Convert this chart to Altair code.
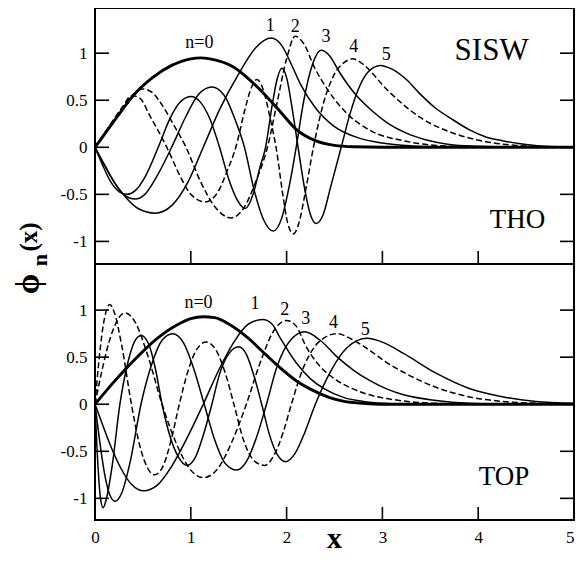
import altair as alt
import pandas as pd

# ---------------- data ----------------
# Top panel (THO)
THO_X0 = [0, 0.1, 0.2, 0.3, 0.4, 0.6, 0.8, 1.0, 1.1, 1.2, 1.45, 1.6, 1.8, 1.95, 2.1, 2.3, 2.5, 2.7, 3.0, 5.0]
THO_Y0 = [0, 0.14, 0.28, 0.42, 0.55, 0.74, 0.87, 0.94, 0.95, 0.94, 0.85, 0.73, 0.53, 0.36, 0.19, 0.07, 0.02, 0.005, 0, 0]

THO_X1 = [0, 0.1, 0.2, 0.32, 0.45, 0.63, 0.8, 0.97, 1.13, 1.3, 1.5, 1.68, 1.84, 1.95, 2.05, 2.15, 2.3, 2.5, 2.75, 3.0, 3.3, 3.6, 4.0, 5.0]
THO_Y1 = [0, -0.19, -0.37, -0.53, -0.65, -0.70, -0.62, -0.37, 0, 0.4, 0.78, 1.06, 1.16, 1.08, 0.88, 0.66, 0.42, 0.22, 0.1, 0.045, 0.015, 0.004, 0, 0]

THO_X2 = [0, 0.1, 0.2, 0.3, 0.4, 0.5, 0.6, 0.7, 0.82, 0.95, 1.1, 1.25, 1.42, 1.55, 1.68, 1.8, 1.9, 2.0, 2.09, 2.18, 2.29, 2.43, 2.6, 2.87, 3.22, 3.56, 4.0, 5.0]
THO_Y2 = [0, 0.15, 0.3, 0.44, 0.56, 0.62, 0.58, 0.45, 0.24, 0, -0.36, -0.63, -0.75, -0.65, -0.36, 0, 0.47, 0.94, 1.18, 1.1, 0.85, 0.61, 0.39, 0.18, 0.07, 0.02, 0.003, 0]

THO_X3 = [0, 0.1, 0.2, 0.3, 0.42, 0.52, 0.65, 0.8, 0.95, 1.08, 1.22, 1.35, 1.46, 1.56, 1.66, 1.76, 1.86, 1.95, 2.03, 2.1, 2.18, 2.27, 2.36, 2.45, 2.55, 2.72, 2.9, 3.05, 3.25, 3.45, 3.7, 4.0, 4.4, 5.0]
THO_Y3 = [0, -0.19, -0.37, -0.5, -0.55, -0.5, -0.3, 0, 0.33, 0.56, 0.64, 0.55, 0.3, 0, -0.45, -0.77, -0.89, -0.75, -0.4, 0, 0.5, 0.88, 1.03, 0.97, 0.8, 0.56, 0.38, 0.26, 0.15, 0.08, 0.03, 0.01, 0, 0]

THO_X4 = [0, 0.1, 0.2, 0.3, 0.38, 0.47, 0.57, 0.75, 0.9, 1.0, 1.15, 1.28, 1.38, 1.47, 1.56, 1.62, 1.69, 1.76, 1.83, 1.89, 1.96, 2.01, 2.07, 2.13, 2.2, 2.28, 2.38, 2.5, 2.6, 2.69, 2.8, 3.05, 3.39, 3.74, 4.08, 4.4, 4.8, 5.0]
THO_Y4 = [0, 0.15, 0.3, 0.45, 0.55, 0.52, 0.34, 0, -0.33, -0.5, -0.58, -0.48, -0.25, 0, 0.38, 0.6, 0.72, 0.6, 0.3, 0, -0.5, -0.8, -0.92, -0.8, -0.45, 0, 0.45, 0.78, 0.9, 0.94, 0.88, 0.61, 0.32, 0.15, 0.06, 0.02, 0.004, 0]

THO_X5 = [0, 0.08, 0.16, 0.25, 0.33, 0.42, 0.53, 0.66, 0.78, 0.88, 1.0, 1.1, 1.2, 1.3, 1.4, 1.48, 1.57, 1.65, 1.72, 1.78, 1.85, 1.9, 1.95, 2.0, 2.06, 2.12, 2.19, 2.25, 2.31, 2.38, 2.46, 2.57, 2.66, 2.75, 2.85, 2.98, 3.1, 3.25, 3.39, 3.55, 3.74, 3.9, 4.08, 4.25, 4.42, 4.7, 5.0]
THO_Y5 = [0, -0.19, -0.36, -0.47, -0.5, -0.46, -0.3, 0, 0.3, 0.47, 0.54, 0.48, 0.3, 0, -0.35, -0.55, -0.65, -0.5, -0.22, 0, 0.45, 0.72, 0.84, 0.74, 0.4, 0, -0.45, -0.72, -0.81, -0.72, -0.42, 0, 0.35, 0.62, 0.8, 0.87, 0.83, 0.72, 0.57, 0.42, 0.29, 0.19, 0.11, 0.07, 0.04, 0.01, 0.003]

# Bottom panel (TOP)
TOP_X0 = [0, 0.2, 0.4, 0.65, 0.85, 1.0, 1.13, 1.25, 1.4, 1.59, 1.78, 1.93, 2.1, 2.27, 2.45, 2.6, 2.8, 3.0, 5.0]
TOP_Y0 = [0, 0.24, 0.46, 0.70, 0.84, 0.91, 0.93, 0.92, 0.85, 0.71, 0.53, 0.39, 0.25, 0.15, 0.07, 0.03, 0.01, 0, 0]

TOP_X1 = [0, 0.08, 0.17, 0.27, 0.38, 0.51, 0.65, 0.8, 0.96, 1.13, 1.3, 1.45, 1.6, 1.75, 1.85, 1.93, 2.1, 2.25, 2.4, 2.6, 2.8, 3.0, 3.3, 5.0]
TOP_Y1 = [0, -0.22, -0.46, -0.68, -0.85, -0.92, -0.86, -0.66, -0.36, 0, 0.38, 0.66, 0.85, 0.90, 0.85, 0.71, 0.44, 0.27, 0.16, 0.07, 0.03, 0.01, 0, 0]

TOP_X2 = [0, 0.06, 0.13, 0.2, 0.31, 0.42, 0.55, 0.7, 0.85, 1.0, 1.13, 1.27, 1.42, 1.58, 1.72, 1.86, 2.0, 2.1, 2.2, 2.36, 2.5, 2.7, 2.9, 3.05, 3.3, 3.6, 4.0, 5.0]
TOP_Y2 = [0, 0.3, 0.6, 0.82, 0.97, 0.87, 0.52, 0, -0.42, -0.7, -0.78, -0.7, -0.42, 0, 0.43, 0.77, 0.89, 0.83, 0.62, 0.39, 0.27, 0.16, 0.09, 0.06, 0.025, 0.008, 0, 0]

TOP_X3 = [0, 0.05, 0.1, 0.15, 0.21, 0.28, 0.37, 0.48, 0.6, 0.7, 0.81, 0.92, 1.03, 1.14, 1.25, 1.36, 1.48, 1.58, 1.69, 1.79, 1.9, 2.04, 2.19, 2.35, 2.53, 2.7, 2.87, 3.05, 3.22, 3.56, 3.9, 4.3, 5.0]
TOP_Y3 = [0, -0.4, -0.74, -0.95, -1.03, -0.94, -0.6, 0, 0.45, 0.68, 0.75, 0.66, 0.38, 0, -0.38, -0.63, -0.70, -0.61, -0.34, 0, 0.4, 0.68, 0.77, 0.68, 0.5, 0.36, 0.25, 0.16, 0.1, 0.04, 0.01, 0, 0]

TOP_X4 = [0, 0.04, 0.08, 0.12, 0.155, 0.2, 0.28, 0.38, 0.47, 0.55, 0.62, 0.7, 0.79, 0.88, 0.97, 1.06, 1.16, 1.26, 1.36, 1.45, 1.55, 1.66, 1.77, 1.88, 1.97, 2.05, 2.16, 2.3, 2.4, 2.52, 2.7, 2.87, 3.05, 3.22, 3.56, 3.9, 4.25, 4.6, 5.0]
TOP_Y4 = [0, 0.45, 0.8, 1.0, 1.06, 0.98, 0.62, 0, -0.45, -0.68, -0.75, -0.68, -0.4, 0, 0.35, 0.58, 0.66, 0.58, 0.33, 0, -0.38, -0.6, -0.65, -0.52, -0.28, 0, 0.35, 0.62, 0.71, 0.75, 0.68, 0.57, 0.44, 0.34, 0.18, 0.08, 0.03, 0.01, 0]

TOP_X5 = [0, 0.02, 0.04, 0.06, 0.085, 0.12, 0.18, 0.26, 0.34, 0.41, 0.48, 0.56, 0.63, 0.7, 0.78, 0.87, 0.96, 1.05, 1.13, 1.22, 1.3, 1.4, 1.5, 1.58, 1.66, 1.74, 1.82, 1.9, 1.99, 2.09, 2.19, 2.3, 2.46, 2.63, 2.84, 3.0, 3.22, 3.56, 3.9, 4.25, 4.6, 5.0]
TOP_Y5 = [0, -0.45, -0.8, -1.02, -1.1, -1.0, -0.65, 0, 0.43, 0.66, 0.73, 0.64, 0.38, 0, -0.33, -0.56, -0.65, -0.56, -0.33, 0, 0.32, 0.54, 0.61, 0.53, 0.3, 0, -0.32, -0.53, -0.61, -0.52, -0.3, 0, 0.35, 0.6, 0.70, 0.66, 0.54, 0.33, 0.17, 0.08, 0.03, 0.01]

YTICKS = [-1, -0.5, 0, 0.5, 1]
XTICKS = [1, 2, 3, 4]
XLABELS = [0, 1, 2, 3, 4, 5]

# curve labels (data coordinates)
THO_LAB_X = [1.09, 1.83, 2.09, 2.41, 2.70, 3.04]
THO_LAB_Y = [1.11, 1.29, 1.28, 1.17, 1.07, 0.98]
TOP_LAB_X = [1.08, 1.67, 1.98, 2.20, 2.49, 2.82]
TOP_LAB_Y = [1.08, 1.07, 1.00, 0.91, 0.86, 0.79]
CURVE_TEXT = ["n=0", "1", "2", "3", "4", "5"]

# ---------------- build ----------------
FONT = "Liberation Serif, Times New Roman, DejaVu Serif, serif"
W, H = 479, 256


def curves(xs_list, ys_list):
    rows = []
    for n, (xs, ys) in enumerate(zip(xs_list, ys_list)):
        for a, b in zip(xs, ys):
            rows.append({"x": a, "y": b, "n": n})
    return pd.DataFrame(rows)


tho_df = curves([THO_X0, THO_X1, THO_X2, THO_X3, THO_X4, THO_X5],
                [THO_Y0, THO_Y1, THO_Y2, THO_Y3, THO_Y4, THO_Y5])
top_df = curves([TOP_X0, TOP_X1, TOP_X2, TOP_X3, TOP_X4, TOP_X5],
                [TOP_Y0, TOP_Y1, TOP_Y2, TOP_Y3, TOP_Y4, TOP_Y5])


def panel(df, lab_x, lab_y, big_labels, ydom, bottom, ytitle):
    xs = alt.Scale(domain=[0, 5], nice=False, zero=False)
    ys = alt.Scale(domain=ydom, nice=False, zero=False)
    if bottom:
        xaxis = alt.Axis(values=XLABELS, labelExpr="'' + datum.value", labelFont=FONT,
                         labelFontSize=17, labelColor="black", labelPadding=9,
                         labelAlign={"condition": {"test": "datum.value == 5", "value": "right"},
                                     "value": "center"},
                         ticks=False, tickSize=0, domain=False, grid=False, title=None,
                         labelFlush=False, labelOverlap=False)
    else:
        xaxis = None
    yaxis = alt.Axis(values=YTICKS, labelExpr="'' + datum.value", labelFont=FONT,
                     labelFontSize=17, labelColor="black", labelPadding=8,
                     ticks=False, tickSize=0, domain=False, grid=False, title=None,
                     labelFlush=False, labelOverlap=False)
    X = alt.X("x:Q", scale=xs, axis=xaxis)
    Y = alt.Y("y:Q", scale=ys, axis=yaxis)

    base = alt.Chart(df)
    thick = base.transform_filter(alt.datum.n == 0).mark_line(
        color="black", strokeWidth=2.9, interpolate="monotone", clip=True
    ).encode(x=X, y=Y, detail="n:N")
    solid = base.transform_filter("datum.n == 1 || datum.n == 3 || datum.n == 5").mark_line(
        color="black", strokeWidth=1.5, interpolate="monotone", clip=True
    ).encode(x=X, y=Y, detail="n:N")
    dashed = base.transform_filter("datum.n == 2 || datum.n == 4").mark_line(
        color="black", strokeWidth=1.5, strokeDash=[6, 3], interpolate="monotone", clip=True
    ).encode(x=X, y=Y, detail="n:N")

    yt = alt.Chart(pd.DataFrame({"y": YTICKS}))
    lt = yt.mark_rule(color="black", strokeWidth=1.6).encode(
        y=Y, x=alt.value(0), x2=alt.value(14))
    rt = yt.mark_rule(color="black", strokeWidth=1.6).encode(
        y=Y, x=alt.value(W - 14), x2=alt.value(W))
    xt = alt.Chart(pd.DataFrame({"x": XTICKS})).mark_rule(color="black", strokeWidth=1.6).encode(
        x=X, y=alt.value(H - 13), y2=alt.value(H))

    labs = alt.Chart(pd.DataFrame({"x": lab_x, "y": lab_y, "t": CURVE_TEXT})).mark_text(
        font=FONT, fontSize=18, color="black"
    ).encode(x=X, y=Y, text="t:N")

    big = alt.Chart(pd.DataFrame(big_labels)).mark_text(
        font=FONT, color="black"
    ).encode(x=X, y=Y, text="t:N", size=alt.Size("s:Q", scale=None, legend=None))

    layers = [thick, solid, dashed, lt, rt, xt, labs, big]

    if ytitle:
        d1 = alt.Chart(pd.DataFrame({"t": ["\u03d5"]})).mark_text(
            font=FONT, fontSize=33, fontWeight="bold", angle=270, color="black"
        ).encode(text="t:N", x=alt.value(-66), y=alt.value(276))
        d2 = alt.Chart(pd.DataFrame({"t": ["n"]})).mark_text(
            font=FONT, fontSize=22, fontWeight="bold", angle=270, color="black"
        ).encode(text="t:N", x=alt.value(-55), y=alt.value(252))
        d3 = alt.Chart(pd.DataFrame({"t": ["(x)"]})).mark_text(
            font=FONT, fontSize=25, fontWeight="bold", angle=270, color="black"
        ).encode(text="t:N", x=alt.value(-66), y=alt.value(229))
        layers += [d1, d2, d3]

    if bottom:
        xtitle = alt.Chart(pd.DataFrame({"t": ["x"]})).mark_text(
            font=FONT, fontSize=30, fontWeight="bold", baseline="alphabetic", color="black"
        ).encode(text="t:N", x=alt.value(W / 2), y=alt.value(H + 28))
        layers.append(xtitle)

    return alt.layer(*layers).properties(width=W, height=H)


top = panel(tho_df, THO_LAB_X, THO_LAB_Y,
            {"x": [4.14, 4.41], "y": [1.02, -0.77], "t": ["SISW", "THO"], "s": [31, 27]},
            [-1.24, 1.48], bottom=False, ytitle=True)
bottom = panel(top_df, TOP_LAB_X, TOP_LAB_Y,
               {"x": [4.27], "y": [-0.77], "t": ["TOP"], "s": [27]},
               [-1.23, 1.49], bottom=True, ytitle=False)

chart = alt.vconcat(top, bottom, spacing=0, bounds="flush").properties(
    padding={"left": 4, "top": -1, "right": 0, "bottom": 0},
    background="white",
).configure_view(stroke="black", strokeWidth=2)

chart.save("out.html", embed_options={"renderer": "svg", "actions": False})
